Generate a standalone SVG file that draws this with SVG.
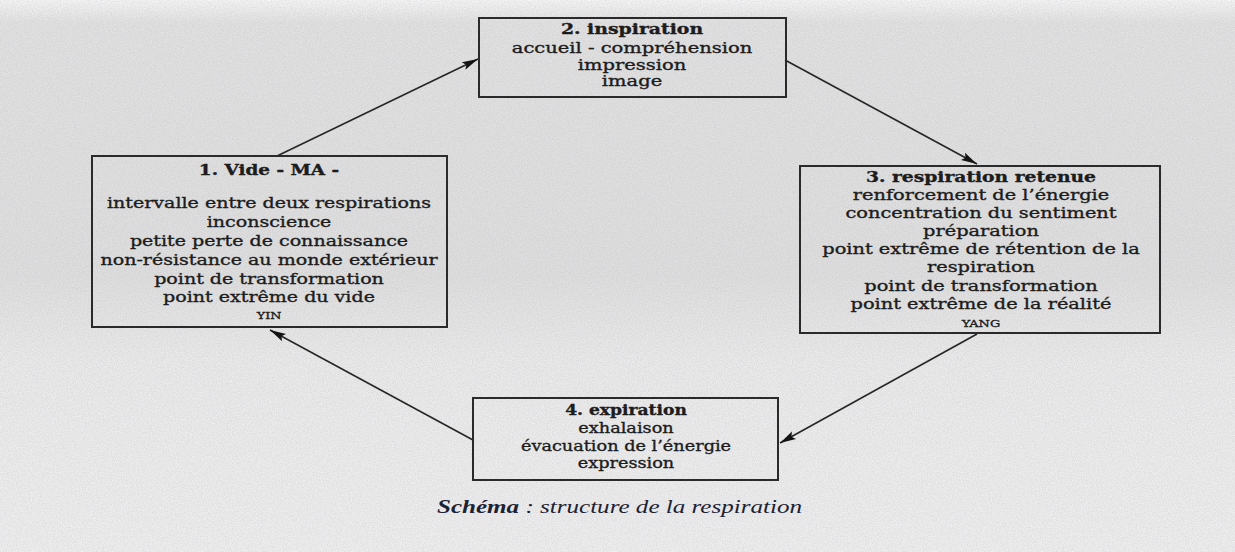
<svg xmlns="http://www.w3.org/2000/svg" width="1235" height="552" viewBox="0 0 1235 552">
  <style>
    .box { fill: none; stroke: #2a2a2a; stroke-width: 2; }
    .t { font-family: "DejaVu Serif", "Liberation Serif", serif; font-size: 15px; fill: #1c1c1c; text-anchor: middle; stroke: #1c1c1c; stroke-width: 0.35; }
    .h { font-weight: bold; font-size: 14.5px; }
    .s { font-size: 10px; }
    .conn { stroke: #262626; stroke-width: 1.6; fill: none; marker-end: url(#ah); }
    .cap { font-family: "Liberation Serif", serif; font-style: italic; font-size: 18px; fill: #1c2233; }
  </style>
  <defs>
    <marker id="ah" markerUnits="userSpaceOnUse" markerWidth="18" markerHeight="10" refX="16" refY="5" orient="auto">
      <path d="M0,0.8 L16,5 L0,9.2 L3,5 Z" fill="#141414"/>
    </marker>
    <linearGradient id="bg" x1="0" y1="0" x2="0" y2="1">
      <stop offset="0" stop-color="#f6f6f6"/>
      <stop offset="0.04" stop-color="#e2e2e2"/>
      <stop offset="0.5" stop-color="#dfdfdf"/>
      <stop offset="0.65" stop-color="#ebebeb"/>
      <stop offset="1" stop-color="#efefef"/>
    </linearGradient>
    <filter id="noise" x="0" y="0" width="100%" height="100%">
      <feTurbulence type="fractalNoise" baseFrequency="0.8" numOctaves="2" seed="3"/>
      <feColorMatrix type="matrix" values="0 0 0 0 0.45  0 0 0 0 0.45  0 0 0 0 0.5  0 0 0 1.2 -0.35"/>
    </filter>
  </defs>

  <rect x="0" y="0" width="1235" height="552" fill="url(#bg)"/>
  <rect x="0" y="0" width="1235" height="552" filter="url(#noise)" opacity="0.45"/>

  <g id="connectors">
    <line class="conn" x1="277" y1="156" x2="478" y2="59"/>
    <line class="conn" x1="785" y1="60" x2="977" y2="164"/>
    <line class="conn" x1="977" y1="334" x2="780" y2="443"/>
    <line class="conn" x1="473" y1="440" x2="270" y2="330"/>
  </g>

  <g id="node1">
    <rect class="box" x="92" y="156" width="355" height="171"/>
    <g transform="translate(269,0) scale(1.27,1)">
      <text class="t h" x="0" y="175">1. Vide - MA -</text>
      <text class="t" x="0" y="208">intervalle entre deux respirations</text>
      <text class="t" x="0" y="227">inconscience</text>
      <text class="t" x="0" y="246">petite perte de connaissance</text>
      <text class="t" x="0" y="265">non-résistance au monde extérieur</text>
      <text class="t" x="0" y="284">point de transformation</text>
      <text class="t" x="0" y="302">point extrême du vide</text>
      <text class="t s" x="0" y="319">YIN</text>
    </g>
  </g>

  <g id="node2">
    <rect class="box" x="479" y="18" width="307" height="79"/>
    <g transform="translate(632,0) scale(1.3,1)">
      <text class="t h" x="0" y="34">2. inspiration</text>
      <text class="t" x="0" y="53">accueil - compréhension</text>
      <text class="t" x="0" y="70">impression</text>
      <text class="t" x="0" y="86">image</text>
    </g>
  </g>

  <g id="node3">
    <rect class="box" x="800" y="166" width="360" height="167"/>
    <g transform="translate(981,0) scale(1.29,1)">
      <text class="t h" x="0" y="182">3. respiration retenue</text>
      <text class="t" x="0" y="200">renforcement de l’énergie</text>
      <text class="t" x="0" y="218">concentration du sentiment</text>
      <text class="t" x="0" y="236">préparation</text>
      <text class="t" x="0" y="254">point extrême de rétention de la</text>
      <text class="t" x="0" y="272">respiration</text>
      <text class="t" x="0" y="291">point de transformation</text>
      <text class="t" x="0" y="309">point extrême de la réalité</text>
      <text class="t s" x="0" y="327">YANG</text>
    </g>
  </g>

  <g id="node4">
    <rect class="box" x="473" y="398" width="305" height="82"/>
    <g transform="translate(626,0) scale(1.18,1)">
      <text class="t h" x="0" y="415">4. expiration</text>
      <text class="t" x="0" y="433">exhalaison</text>
      <text class="t" x="0" y="451">évacuation de l’énergie</text>
      <text class="t" x="0" y="468">expression</text>
    </g>
  </g>

  <g id="caption">
    <text class="cap" x="437" y="513" textLength="365" lengthAdjust="spacingAndGlyphs"><tspan font-weight="bold">Schéma</tspan> : structure de la respiration</text>
  </g>
</svg>
